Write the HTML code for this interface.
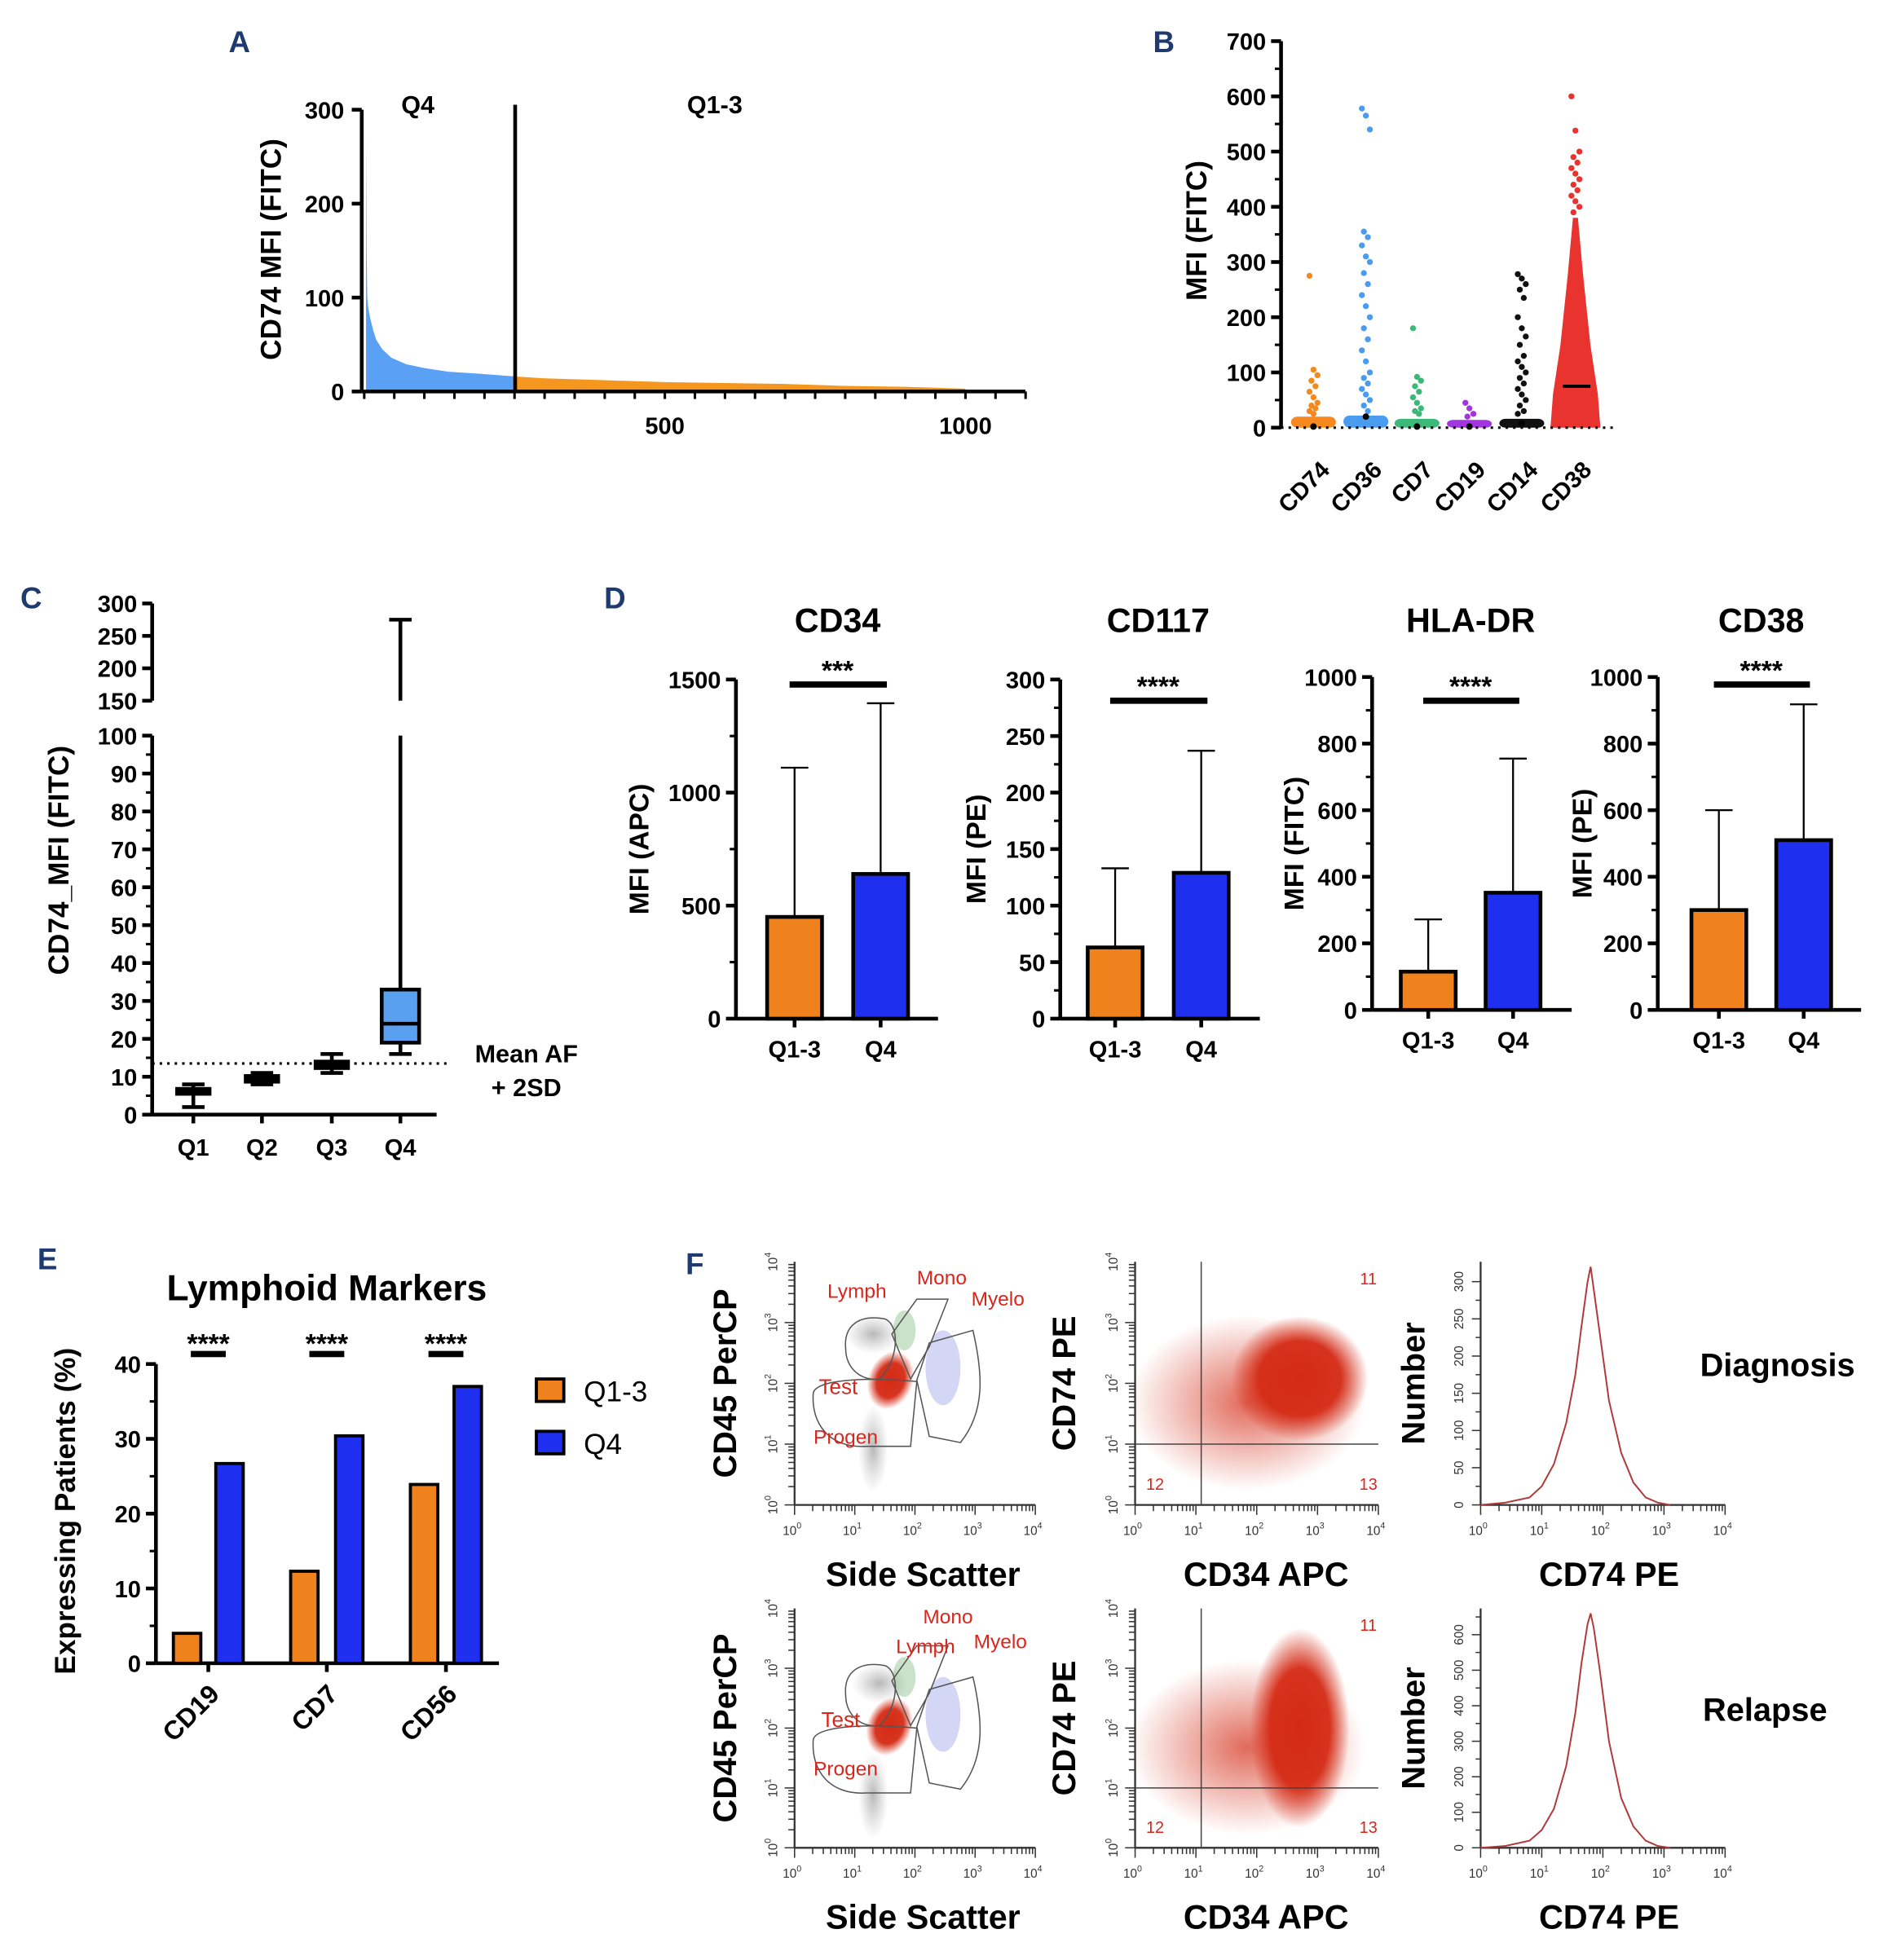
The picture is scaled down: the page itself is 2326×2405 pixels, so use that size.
<!DOCTYPE html>
<html><head><meta charset="utf-8">
<style>
html,body{margin:0;padding:0;background:#fff;}
svg{display:block;}
text{font-family:"Liberation Sans",sans-serif;}
</style></head>
<body>
<svg id="fig" xmlns="http://www.w3.org/2000/svg" width="2326" height="2405" viewBox="0 0 1520 1572" preserveAspectRatio="none">
<defs>
<radialGradient id="gRed" cx="50%" cy="50%" r="50%">
<stop offset="0" stop-color="#d42a14" stop-opacity="1"/>
<stop offset="0.6" stop-color="#d42a14" stop-opacity="0.95"/>
<stop offset="1" stop-color="#d42a14" stop-opacity="0"/>
</radialGradient>
<radialGradient id="gRedSoft" cx="50%" cy="50%" r="50%">
<stop offset="0" stop-color="#d42a14" stop-opacity="0.7"/>
<stop offset="1" stop-color="#d42a14" stop-opacity="0"/>
</radialGradient>
<radialGradient id="gGrey" cx="50%" cy="50%" r="50%">
<stop offset="0" stop-color="#b8b8b8" stop-opacity="1"/>
<stop offset="1" stop-color="#c8c8c8" stop-opacity="0"/>
</radialGradient>
</defs>
</svg>
<script>
// ---------- DATA ----------
const aBlueIdx=[3,4,5,7,10,15,20,30,45,70,100,140,190,252];
const aBlueVal=[272,150,100,88,78,65,55,45,36,29,25,21,19,16];
const aOrangeIdx=[252,300,400,500,600,700,800,900,1000];
const aOrangeVal=[16,14,12,10,9,8,6,5,3];
const aXTicks=[500,1000];
const aYTicks=[0,100,200,300];
const bCats=["CD74","CD36","CD7","CD19","CD14","CD38"];
const bColors=["#f5891f","#4a9cf0","#3cb878","#a335e0","#111111","#e8332f"];
const bBulk=[20,22,16,14,16,380];
const bMedian=[2,20,2,2,8,75];
const bOut=[[275,105,95,85,75,65,55,45,40,35,30,25],
 [578,565,540,355,345,330,310,300,280,260,240,220,200,180,160,140,120,100,90,80,70,60,50,40,30],
 [180,92,85,75,65,55,45,35,30,25],
 [45,35,25,20],
 [278,270,260,250,235,200,180,165,150,130,120,110,100,90,80,70,60,50,40,30,25],
 [600,538,500,490,480,470,460,450,440,430,420,410,400,390]];
const bYTicks=[0,100,200,300,400,500,600,700];
const cCats=["Q1","Q2","Q3","Q4"];
const cMin=[2,8,11,16];
const cQ1=[5.5,8.7,12.3,19];
const cMed=[6,9.5,13,24];
const cQ3=[6.8,10.2,14,33];
const cMax=[8,11,16,275];
const cLowTicks=[0,10,20,30,40,50,60,70,80,90,100];
const cHighTicks=[150,200,250,300];
const cThreshold=13.5;
const dTitles=["CD34","CD117","HLA-DR","CD38"];
const dYLabels=["MFI (APC)","MFI (PE)","MFI (FITC)","MFI (PE)"];
const dQ13=[450,63,115,300];
const dQ4=[640,129,352,510];
const dErr13=[1110,133,272,600];
const dErr4=[1395,237,755,918];
const dMax=[1500,300,1000,1000];
const dStep=[500,50,200,200];
const dStars=["***","****","****","****"];
const eCats=["CD19","CD7","CD56"];
const eQ13=[4,12.3,23.9];
const eQ4=[26.7,30.4,37];
const eYTicks=[0,10,20,30,40];
const hLog=[0,0.4,0.8,1.0,1.2,1.4,1.55,1.65,1.75,1.8,1.85,1.95,2.1,2.3,2.5,2.7,2.9,3.1];
const hDiag=[0,3,10,25,55,110,175,240,300,320,290,230,140,70,30,10,3,0];
const hRel=[0,5,20,50,110,230,380,520,630,660,620,500,300,140,60,20,5,0];

// ---------- HELPERS ----------
const NS='http://www.w3.org/2000/svg';
const svg=document.getElementById('fig');
function mk(parent,tag,attrs,txt){const e=document.createElementNS(NS,tag);for(const k in attrs)e.setAttribute(k,attrs[k]);if(txt!==undefined)e.textContent=txt;parent.appendChild(e);return e;}
function grp(name){const g=mk(svg,'g',{});return g;}
function line(p,x1,y1,x2,y2,w,c,extra){return mk(p,'line',Object.assign({x1,y1,x2,y2,stroke:c||'#000','stroke-width':w||2},extra||{}));}
function txt(p,x,y,s,size,anchor,weight,fill,extra){return mk(p,'text',Object.assign({x,y,'font-size':size,'text-anchor':anchor||'middle','font-weight':weight||'bold',fill:fill||'#000'},extra||{}),s);}
function panelLetter(x,y,s){const t=txt(svg,x,y,s,24,'middle','bold','#1f3a6e');}

// ---------- PANEL A ----------
(function(){
const g=grp('panel-a-ranked-chart');
const x0=292,xs=0.482,y0=314,ys=226/300;
const X=i=>x0+i*xs, Y=v=>y0-v*ys;
let d='M'+X(aBlueIdx[0])+','+y0;
aBlueIdx.forEach((i,k)=>d+=' L'+X(i)+','+Y(aBlueVal[k]));
d+=' L'+X(aBlueIdx[aBlueIdx.length-1])+','+y0+' Z';
const pb=mk(g,'path',{d,fill:'#5aa0f5'});


let d2='M'+X(aOrangeIdx[0])+','+y0;
aOrangeIdx.forEach((i,k)=>d2+=' L'+X(i)+','+Y(aOrangeVal[k]));
d2+=' L'+X(aOrangeIdx[aOrangeIdx.length-1])+','+y0+' Z';
const po=mk(g,'path',{d:d2,fill:'#f5961f'});


line(g,290,Y(0),822,Y(0),3);
line(g,290,Y(0),290,Y(300),3);
for(let i=0;i<=1100;i+=50){line(g,X(i),y0,X(i),y0+6,2);}
aXTicks.forEach(t=>txt(g,X(t),348,String(t),19));
aYTicks.forEach(t=>{line(g,282,Y(t),290,Y(t),3);txt(g,276,Y(t)+7,String(t),19,'end');});
line(g,413,84,413,314,3);
txt(g,335,91,'Q4',20);txt(g,573,91,'Q1-3',20);
const yl=txt(g,225,200,'CD74 MFI (FITC)',23,'middle','bold','#000',{transform:'rotate(-90 225 200)'});


})();
panelLetter(192,42,'A');

// ---------- PANEL B ----------
(function(){
const g=grp('panel-b-strip-plot');
const y0=343,ys=310/700,ax=1027;
const Y=v=>y0-v*ys;
const cx=[1053,1095,1136,1178,1220,1263];
bCats.forEach((c,k)=>{
 const col=bColors[k];
 const cg=mk(g,'g',{});
 
 
 if(k===5){
  const top=Y(bBulk[k]);
  mk(cg,'path',{d:`M${cx[k]-20},${y0} L${cx[k]-18},${Y(60)} L${cx[k]-12},${Y(150)} L${cx[k]-6},${Y(280)} L${cx[k]-2},${top} L${cx[k]+2},${top} L${cx[k]+6},${Y(280)} L${cx[k]+12},${Y(150)} L${cx[k]+18},${Y(60)} L${cx[k]+20},${y0} Z`,fill:col});
 } else {
  mk(cg,'rect',{x:cx[k]-18,y:Y(bBulk[k]),width:36,height:y0-Y(bBulk[k]),rx:5,fill:col});
 }
 bOut[k].forEach((v,j)=>{
  const off=((j*7)%5-2)*1.6;
  const dot=mk(cg,'circle',{cx:cx[k]+off,cy:Y(v),r:2.4,fill:col});
  
  
 });
 if(k===5){line(cg,cx[k]-10,Y(bMedian[k]),cx[k]+12,Y(bMedian[k]),2.5,'#000');}
 else{mk(cg,'circle',{cx:cx[k],cy:Y(bMedian[k]),r:2.6,fill:'#000'});}
 const lt=txt(g,cx[k]+14,378,c,19,'end','bold','#000',{transform:`rotate(-45 ${cx[k]+14} 378)`});
 
 
});
line(g,ax,y0,1295,y0,2,'#000',{'stroke-dasharray':'2,4'});
line(g,ax,Y(0),ax,Y(700),3);
bYTicks.forEach(t=>{line(g,ax-8,Y(t),ax,Y(t),3);txt(g,ax-12,Y(t)+7,String(t),19,'end');});
for(let t=50;t<700;t+=100)line(g,ax-5,Y(t),ax,Y(t),2);
const yl=txt(g,967,185,'MFI (FITC)',23,'middle','bold','#000',{transform:'rotate(-90 967 185)'});


})();
panelLetter(933,42,'B');

// ---------- PANEL C ----------
(function(){
const g=grp('panel-c-box-plot');
const ax=122;
const Yl=v=>894-v*3.04, Yh=v=>562-(v-150)*0.52;
const Y=v=>v<=100?Yl(v):Yh(v);
const cx=[155,210,266,321];
line(g,ax,894,ax,590,3);line(g,ax,562,ax,484,3);
line(g,ax,894,350,894,3);
cLowTicks.forEach(t=>{line(g,ax-8,Yl(t),ax,Yl(t),3);txt(g,ax-12,Yl(t)+7,String(t),19,'end');});
for(let t=5;t<100;t+=10)line(g,ax-5,Yl(t),ax,Yl(t),2);
cHighTicks.forEach(t=>{line(g,ax-8,Yh(t),ax,Yh(t),3);txt(g,ax-12,Yh(t)+7,String(t),19,'end');});
line(g,ax,Yl(cThreshold),358,Yl(cThreshold),2,'#000',{'stroke-dasharray':'2,4'});
cCats.forEach((c,k)=>{
 const bg=mk(g,'g',{});
 
 
 const x=cx[k],w=k===3?30:26;
 if(cMax[k]>100){
  line(bg,x,Yl(cQ3[k]),x,Yl(100),3);
  line(bg,x,Yh(150),x,Yh(cMax[k]),3);
 } else line(bg,x,Yl(cQ3[k]),x,Yl(cMax[k]),3);
 line(bg,x,Yl(cQ1[k]),x,Yl(cMin[k]),3);
 line(bg,x-9,Y(cMax[k]),x+9,Y(cMax[k]),3);
 line(bg,x-9,Yl(cMin[k]),x+9,Yl(cMin[k]),3);
 mk(bg,'rect',{x:x-w/2,y:Yl(cQ3[k]),width:w,height:Math.max(Yl(cQ1[k])-Yl(cQ3[k]),2),fill:k===3?'#5aa0f0':'#000',stroke:'#000','stroke-width':3});
 line(bg,x-w/2,Yl(cMed[k]),x+w/2,Yl(cMed[k]),3);
 txt(g,x,927,c,19);
 line(g,x,894,x,901,3);
});
txt(g,422,852,'Mean AF',20);txt(g,422,879,'+ 2SD',20);
const yl=txt(g,55,690,'CD74_MFI (FITC)',23,'middle','bold','#000',{transform:'rotate(-90 55 690)'});


})();
panelLetter(25,488,'C');

// ---------- PANEL D ----------
(function(){
const ax=[590,850,1100,1329], y0s=[817,817,810,810], ytops=[545,545,543,543];
const bx1=[637,894,1145,1378], bx2=[706,963,1213,1446], xEnd=[752,1010,1260,1492];
const sigY=[549,562,562,549], ylx=[512,782,1037,1268];
dTitles.forEach((t,k)=>{
 const g=grp('panel-d-'+t.toLowerCase()+'-chart');
 const y0=y0s[k],ys=(y0-ytops[k])/dMax[k];const Y=v=>y0-v*ys;
 line(g,ax[k],y0,ax[k],ytops[k],3);line(g,ax[k],y0,xEnd[k],y0,3);
 for(let v=0;v<=dMax[k]+1e-9;v+=dStep[k]){line(g,ax[k]-8,Y(v),ax[k],Y(v),3);txt(g,ax[k]-12,Y(v)+7,String(v),19,'end');}
 for(let v=dStep[k]/2;v<dMax[k];v+=dStep[k])line(g,ax[k]-5,Y(v),ax[k],Y(v),2);
 [[bx1[k],dQ13[k],dErr13[k],'#f0821e','bar-q1-3','Q1-3'],[bx2[k],dQ4[k],dErr4[k],'#1f2ff0','bar-q4','Q4']].forEach(b=>{
  line(g,b[0],Y(b[1]),b[0],Y(b[2]),1.5);line(g,b[0]-11,Y(b[2]),b[0]+11,Y(b[2]),1.5);
  const r=mk(g,'rect',{x:b[0]-22,y:Y(b[1]),width:44,height:y0-Y(b[1]),fill:b[3],stroke:'#000','stroke-width':3});
  
  
  line(g,b[0],y0,b[0],y0+7,3);
  txt(g,b[0],y0+31,b[5],19);
 });
 line(g,bx1[k]-4,sigY[k],bx2[k]+5,sigY[k],5);
 txt(g,(bx1[k]+bx2[k])/2,sigY[k]-4,dStars[k],22);
 const tt=txt(g,(bx1[k]+bx2[k])/2,507,t,27);
 
 
 const yc=(y0+ytops[k])/2;
 const yl=txt(g,ylx[k]+8,yc,dYLabels[k],22,'middle','bold','#000',{transform:`rotate(-90 ${ylx[k]+8} ${yc})`});
 
 
});
})();
panelLetter(493,488,'D');

// ---------- PANEL E ----------
(function(){
const g=grp('panel-e-lymphoid-chart');
const ax=125,y0=1334,ys=240/40;const Y=v=>y0-v*ys;
const ox=[150,244,340],bx=[184,280,375];
line(g,ax,y0,ax,1094,3);line(g,ax,y0,400,y0,3);
eYTicks.forEach(t=>{line(g,ax-8,Y(t),ax,Y(t),3);txt(g,ax-12,Y(t)+7,String(t),19,'end');});
for(let t=5;t<40;t+=10)line(g,ax-5,Y(t),ax,Y(t),2);
eCats.forEach((c,k)=>{
 const r1=mk(g,'rect',{x:ox[k]-11,y:Y(eQ13[k]),width:22,height:y0-Y(eQ13[k]),fill:'#f0821e',stroke:'#000','stroke-width':2.5});
 
 
 const r2=mk(g,'rect',{x:bx[k]-11,y:Y(eQ4[k]),width:22,height:y0-Y(eQ4[k]),fill:'#1f2ff0',stroke:'#000','stroke-width':2.5});
 
 
 const mid=(ox[k]+bx[k])/2;
 line(g,mid,y0,mid,y0+7,3);
 line(g,mid-14,1086,mid+14,1086,5);
 txt(g,mid,1085,'****',22);
 txt(g,mid+10,1360,c,21,'end','bold','#000',{transform:`rotate(-45 ${mid+10} 1360)`});
});
const tt=txt(g,262,1043,'Lymphoid Markers',29);


const yl=txt(g,60,1212,'Expressing Patients (%)',23,'middle','bold','#000',{transform:'rotate(-90 60 1212)'});


const l1=mk(g,'rect',{x:430,y:1106,width:22,height:18,fill:'#f0821e',stroke:'#000','stroke-width':2.5});


txt(g,468,1124,'Q1-3',23,'start','normal');
const l2=mk(g,'rect',{x:430,y:1148,width:22,height:18,fill:'#1f2ff0',stroke:'#000','stroke-width':2.5});


txt(g,468,1166,'Q4',23,'start','normal');
})();
panelLetter(38,1018,'E');

// ---------- PANEL F ----------
function logAxes(g,x0,y0,w,h,withY){
 line(g,x0,y0,x0+w,y0,1.5,'#333');
 if(withY)line(g,x0,y0,x0,y0-h,1.5,'#333');
 for(let d=0;d<4;d++)for(let m=1;m<10;m++){const f=(d+Math.log10(m))/4;
  line(g,x0+f*w,y0,x0+f*w,y0+(m===1?8:5),1,'#333');}
 line(g,x0+w,y0,x0+w,y0+8,1,'#333');
 for(let d=0;d<=4;d++){const t=mk(g,'text',{x:x0+d*w/4-2,y:y0+24,'font-size':10,'text-anchor':'middle',fill:'#333'});t.textContent='10';mk(t,'tspan',{dy:-5,'font-size':7},String(d));}
}
function logYAxis(g,x0,y0,h){
 for(let d=0;d<4;d++)for(let m=1;m<10;m++){const f=(d+Math.log10(m))/4;line(g,x0,y0-f*h,x0-(m===1?8:5),y0-f*h,1,'#333');}
 for(let d=0;d<=4;d++){const y=y0-d*h/4;const t=mk(g,'text',{x:x0-14,y:y,'font-size':10,'text-anchor':'middle',fill:'#333',transform:`rotate(-90 ${x0-14} ${y})`});t.textContent='10';mk(t,'tspan',{dy:-5,'font-size':7},String(d));}
}
const fRows=[{y0:1207,top:1012,hist:hDiag,hmax:320,hstep:50,label:'Diagnosis',lx:1425,relapse:false},
             {y0:1482,top:1290,hist:hRel,hmax:660,hstep:100,label:'Relapse',lx:1415,relapse:true}];
fRows.forEach((r,ri)=>{
 const h=r.y0-r.top;
 const g1=grp('flow-gating-plot-'+(ri+1));
 const x0=637,w=193;
 const T=r.top;
 mk(g1,'ellipse',{cx:700,cy:T+150,rx:12,ry:35,fill:'url(#gGrey)'});
 mk(g1,'ellipse',{cx:r.relapse?705:700,cy:T+(r.relapse?60:58),rx:22,ry:16,fill:'url(#gGrey)'});
 mk(g1,'ellipse',{cx:r.relapse?713:714,cy:T+95,rx:18,ry:24,fill:'url(#gRed)',transform:`rotate(20 714 ${T+95})`});
 mk(g1,'ellipse',{cx:756,cy:T+85,rx:14,ry:30,fill:'#2233cc','fill-opacity':0.2});
 mk(g1,'ellipse',{cx:725,cy:T+55,rx:9,ry:16,fill:'#2a8a2a','fill-opacity':0.25});
 const pg=(pts)=>mk(g1,'path',{d:pts,fill:'none',stroke:'#555','stroke-width':1});
 pg(`M652,${T+105} C655,${T+95} 690,${T+92} 735,${T+96} L730,${T+148} L695,${T+148} C665,${T+150} 650,${T+130} 652,${T+105} Z`);
 pg(`M678,${T+70} C676,${T+50} 690,${T+42} 710,${T+46} C722,${T+52} 720,${T+80} 705,${T+94} C690,${T+96} 678,${T+85} 678,${T+70} Z`);
 pg(`M715,${T+58} L735,${T+30} L760,${T+30} L745,${T+68} L730,${T+94} Z`);
 pg(`M735,${T+95} L745,${T+65} L780,${T+55} C788,${T+90} 790,${T+120} 770,${T+145} L745,${T+140} Z`);
 logAxes(g1,x0,r.y0,w,h,true);logYAxis(g1,x0,r.y0,h);
 const red='#d9261c';
 if(!r.relapse){txt(g1,687,1041,'Lymph',16,'middle','normal',red);txt(g1,755,1030,'Mono',16,'middle','normal',red);txt(g1,800,1047,'Myelo',16,'middle','normal',red);txt(g1,672,1118,'Test',17,'middle','normal',red);txt(g1,678,1158,'Progen',16,'middle','normal',red);}
 else{txt(g1,742,1326,'Lymph',16,'middle','normal',red);txt(g1,760,1302,'Mono',16,'middle','normal',red);txt(g1,802,1322,'Myelo',16,'middle','normal',red);txt(g1,674,1385,'Test',17,'middle','normal',red);txt(g1,678,1424,'Progen',16,'middle','normal',red);}
 txt(g1,740,r.y0+65,'Side Scatter',27);
 txt(g1,590,r.top+h/2,'CD45 PerCP',26,'middle','bold','#000',{transform:`rotate(-90 590 ${r.top+h/2})`});
 const g2=grp('flow-cd34-cd74-plot-'+(ri+1));
 const x2=910,w2=195;
 mk(g2,'ellipse',{cx:1000,cy:r.top+h*0.58,rx:95,ry:70,fill:'url(#gRedSoft)'});
 mk(g2,'ellipse',{cx:1042,cy:r.top+h*(r.relapse?0.5:0.48),rx:r.relapse?40:55,ry:r.relapse?80:50,fill:'url(#gRed)'});
 logAxes(g2,x2,r.y0,w2,h,true);logYAxis(g2,x2,r.y0,h);
 line(g2,963,r.top,963,r.y0,1,'#444');line(g2,x2,r.y0-h*0.25,x2+w2,r.y0-h*0.25,1,'#444');
 txt(g2,1097,r.top+18,'11',13,'middle','normal',red);txt(g2,926,r.y0-12,'12',13,'middle','normal',red);txt(g2,1097,r.y0-12,'13',13,'middle','normal',red);
 txt(g2,1015,r.y0+65,'CD34 APC',27);
 txt(g2,862,r.top+h/2,'CD74 PE',26,'middle','bold','#000',{transform:`rotate(-90 862 ${r.top+h/2})`});
 const g3=grp('flow-histogram-'+(ri+1));
 const x3=1187,w3=196;
 logAxes(g3,x3,r.y0,w3,h,true);
 const hs=(h-4)/r.hmax;
 for(let v=0;v<=r.hmax;v+=r.hstep/2){line(g3,x3,r.y0-v*hs,x3-(v%r.hstep===0?7:4),r.y0-v*hs,1,'#333');}
 for(let v=0;v<=r.hmax;v+=r.hstep){const y=r.y0-v*hs;txt(g3,x3-14,y,String(v),10,'middle','normal','#333',{transform:`rotate(-90 ${x3-14} ${y})`});}
 let d='';hLog.forEach((l,i)=>{d+=(i?' L':'M')+(x3+l/4*w3)+','+(r.y0-r.hist[i]*hs);});
 const hp=mk(g3,'path',{d,fill:'none',stroke:'#b03a3a','stroke-width':1.3});
 
 
 txt(g3,1290,r.y0+65,'CD74 PE',27);
 txt(g3,1142,r.top+h/2,'Number',26,'middle','bold','#000',{transform:`rotate(-90 1142 ${r.top+h/2})`});
 txt(g3,r.lx,r.top+h*0.47,r.label,26);
});
panelLetter(557,1022,'F');
</script>
</body></html>
